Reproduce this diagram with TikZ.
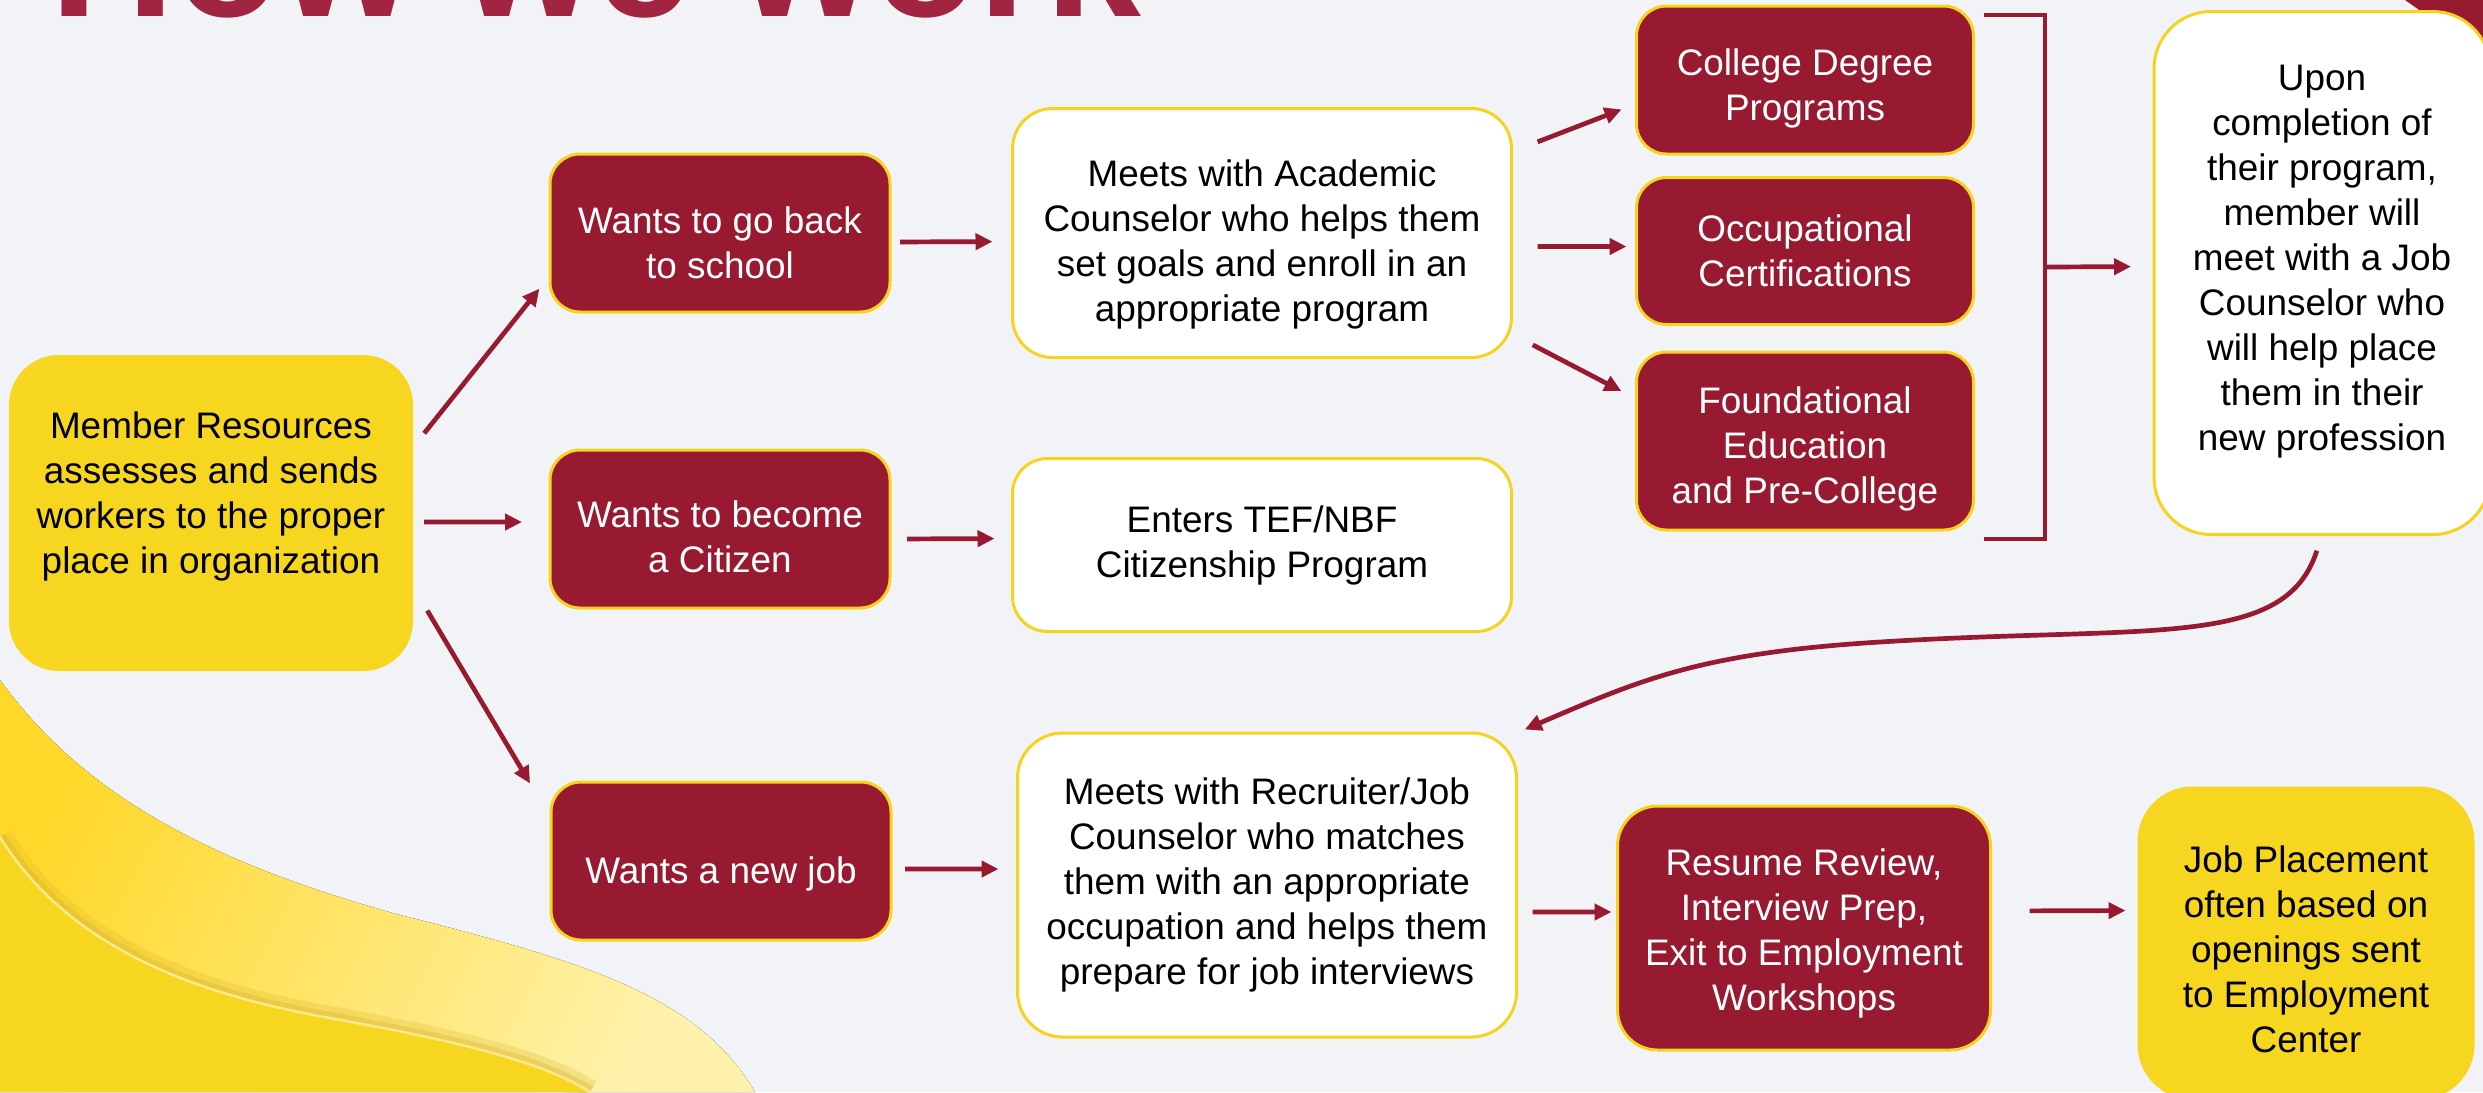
\documentclass[tikz,border=0pt]{standalone}
\usepackage{fontspec}
\setmainfont{Liberation Sans}
\usetikzlibrary{arrows.meta}

\definecolor{maroon}{HTML}{971A31}
\definecolor{titlered}{HTML}{A12540}
\definecolor{gold}{HTML}{F6D31F}
\definecolor{goldfill}{HTML}{F6D61F}
\definecolor{paper}{HTML}{F2F3F7}
\definecolor{bandA}{HTML}{FFD82A}
\definecolor{bandB}{HTML}{FFF2AC}
\definecolor{bandshade}{HTML}{D8B52A}
\definecolor{bandline}{HTML}{FFE98A}

\tikzset{
  box/.style={rounded corners=3mm, draw=gold, line width=0.3mm, align=center,
    inner sep=0pt, outer sep=0pt, font=\fontsize{10.5}{12.8}\selectfont},
  redbox/.style={box, fill=maroon, text=white},
  whitebox/.style={box, fill=white, text=black},
  goldbox/.style={box, draw=none, fill=goldfill, text=black},
  flow/.style={draw=maroon, line width=0.47mm, -{Triangle[length=1.7mm,width=1.6mm]}},
  bracketline/.style={draw=maroon, line width=0.47mm},
}

% struts to push a node's text down (first line) or up (last line)
\newcommand{\topgap}[1]{\rule{0pt}{#1}}
\newcommand{\botgap}[1]{\rule[-#1]{0pt}{0pt}}

\newcommand{\innerwave}{(0,837) .. controls (70,950) and (200,995) .. (330,1018) .. controls (450,1040) and (540,1060) .. (590,1092)}

\begin{document}
\begin{tikzpicture}[x=0.1mm, y=-0.1mm]
		% page
		\fill[paper] (0,0) rectangle (2483,1092);
		\useasboundingbox (0,0) rectangle (2483,1092);
		\clip (0,0) rectangle (2483,1092);
		
		% yellow waves, bottom left
		\fill[top color=bandA, bottom color=bandB, shading angle=63] (0,680) .. controls (80,790) and (200,860) .. (400,915) .. controls (600,965) and (700,1000) .. (755,1092) -- (0,1092) -- cycle;
		\draw[bandshade, line width=2.4mm, opacity=0.25] \innerwave;
		\draw[bandshade, line width=1.2mm, opacity=0.35] \innerwave;
		\fill[goldfill] \innerwave -- (0,1092) -- cycle;
		\draw[bandline, line width=0.25mm] \innerwave;
		
		% corner mark
		\fill[maroon] (2405,0) -- (2483,0) -- (2483,55) -- cycle;
		
		% title
		\node[anchor=base west, inner sep=0pt, text=titlered, font=\fontsize{49}{50}\selectfont\bfseries] (title) at (50,16) {How we work};
		
		% first column
		\node[goldbox, rounded corners=5mm, minimum width=40.4mm, minimum height=31.6mm] (member) at (211,513) {Member Resources\\assesses and sends\\workers to the proper\\place in organization\botgap{4mm}};
		
		% second column
		\node[redbox, minimum width=34mm, minimum height=15.8mm] (school) at (720,233) {\topgap{4.6mm}Wants to go back\\to school};
		\node[redbox, minimum width=34mm, minimum height=15.8mm] (citizen) at (720,529) {\topgap{4.3mm}Wants to become\\a Citizen};
		\node[redbox, minimum width=34mm, minimum height=15.8mm] (newjob) at (721,861) {\topgap{5.2mm}Wants a new job};
		
		% third column
		\node[whitebox, rounded corners=4mm, minimum width=49.9mm, minimum height=24.9mm] (academic) at (1262,233) {\topgap{4.9mm}Meets with Academic\\Counselor who helps them\\set goals and enroll in an\\appropriate program};
		\node[whitebox, rounded corners=3.5mm, minimum width=49.9mm, minimum height=17.3mm] (citizenship) at (1262,545) {Enters TEF/NBF\\Citizenship Program};
		\node[whitebox, rounded corners=4.5mm, minimum width=49.9mm, minimum height=30.4mm] (recruiter) at (1267,885) {Meets with Recruiter/Job\\Counselor who matches\\them with an appropriate\\occupation and helps them\\prepare for job interviews};
		
		% programs
		\node[redbox, minimum width=33.7mm, minimum height=14.8mm] (college) at (1805,80) {\topgap{4.3mm}College Degree\\Programs};
		\node[redbox, minimum width=33.7mm, minimum height=14.7mm] (occupational) at (1805,251) {Occupational\\Certifications};
		\node[redbox, minimum width=33.7mm, minimum height=17.8mm] (foundational) at (1805,441) {\topgap{4.3mm}Foundational\\Education\\and Pre-College};
		
		% job side
		\node[whitebox, rounded corners=5.7mm, minimum width=33.6mm, minimum height=52.3mm] (upon) at (2322,273) {Upon\\completion of\\their program,\\member will\\meet with a Job\\Counselor who\\will help place\\them in their\\new profession\botgap{3mm}};
		\node[redbox, rounded corners=4mm, minimum width=37.3mm, minimum height=24.4mm] (workshops) at (1804,928) {\topgap{3.7mm}Resume Review,\\Interview Prep,\\Exit to Employment\\Workshops};
		\node[goldbox, rounded corners=5.5mm, minimum width=33.7mm, minimum height=31.3mm] (placement) at (2306,943) {\topgap{3.9mm}Job Placement\\often based on\\openings sent\\to Employment\\Center};
		
		% arrows out of member resources
		\draw[flow, shorten <=1.8mm, shorten >=1.7mm] (member.18) -- (school.194);
		\draw[flow, shorten <=1.1mm, shorten >=2.8mm] ([yshift=-0.9mm]member.east) -- ([yshift=0.7mm]citizen.west);
		\draw[flow, shorten <=2.8mm, shorten >=4.1mm] (member.-20) -- (newjob.166);
		
		% arrows into the counselors
		\draw[flow, shorten <=1mm, shorten >=2mm] ([yshift=-0.9mm]school.east) -- ([yshift=-0.85mm]academic.west);
		\draw[flow, shorten <=1.7mm, shorten >=1.8mm] ([yshift=-1mm]citizen.east) -- ([yshift=0.65mm]citizenship.west);
		\draw[flow, shorten <=1.4mm, shorten >=1.9mm] ([yshift=-0.8mm]newjob.east) -- ([yshift=1.6mm]recruiter.west);
		
		% arrows into the programs
		\draw[flow, shorten <=2.8mm, shorten >=1.6mm] (academic.18) -- (college.188);
		\draw[flow, shorten <=2.6mm, shorten >=1mm] ([yshift=-1.35mm]academic.east) -- ([yshift=0.45mm]occupational.west);
		\draw[flow, shorten <=2.4mm, shorten >=1.7mm] (academic.-22) -- (foundational.166);
		
		% bracket round the programs
		\coordinate (brace) at (2045,267);
		\draw[bracketline] ([xshift=1mm,yshift=-0.9mm]college.north east) -| (brace) |- ([xshift=1mm,yshift=-0.9mm]foundational.south east);
		\draw[flow, shorten >=2.3mm] (brace) -- ([yshift=0.65mm]upon.west);
		
		% back down to the job counselor
		\draw[flow, shorten <=1.7mm, shorten >=0.9mm] (upon.south) .. controls (2285,650) and (2150,625) .. (1880,642) .. controls (1700,653) and (1640,680) .. (recruiter.north east);
		
		% last row
		\draw[flow, shorten <=1.6mm, shorten >=0.6mm] ([yshift=-2.7mm]recruiter.east) -- ([yshift=1.6mm]workshops.west);
		\draw[flow, shorten <=3.9mm, shorten >=1.2mm] ([yshift=1.7mm]workshops.east) -- ([yshift=3.25mm]placement.west);
	\end{tikzpicture}
\end{document}
